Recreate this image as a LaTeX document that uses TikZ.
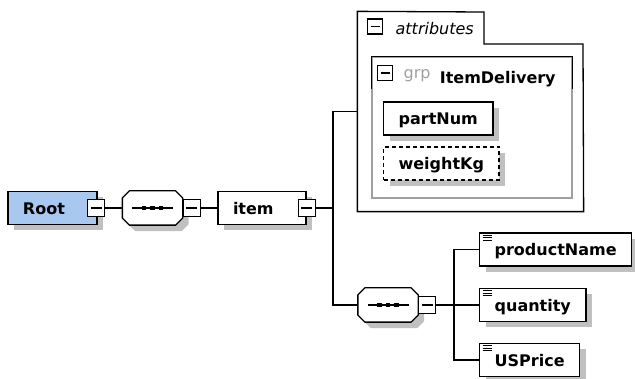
\documentclass[tikz,border=0pt]{standalone}
\usepackage{fontspec}
\setmainfont{DejaVu Sans}
\usetikzlibrary{shadows,positioning}
\definecolor{rootblue}{HTML}{A8C8F0}
\definecolor{shadowgray}{HTML}{C0C0C0}
\definecolor{grpgray}{HTML}{A0A0A0}
% octagon round a node, shifted right and down by #2
\newcommand\octpath[2]{([shift={(7+#2,#2)}]#1.north west) -- ([shift={(-7+#2,#2)}]#1.north east)
  -- ([shift={(#2,7+#2)}]#1.north east) -- ([shift={(#2,-7+#2)}]#1.south east)
  -- ([shift={(-7+#2,#2)}]#1.south east) -- ([shift={(7+#2,#2)}]#1.south west)
  -- ([shift={(#2,-7+#2)}]#1.south west) -- ([shift={(#2,7+#2)}]#1.north west) -- cycle}

\begin{document}
\begin{tikzpicture}[x=1pt,y=-1pt,line width=1.3pt,
  txt/.style={font=\fontsize{16}{19}\selectfont},
  boxshadow/.style={general shadow={fill=shadowgray, shadow xshift=6pt, shadow yshift=-6pt}},
  box/.style={draw, fill=white, boxshadow, minimum height=33pt, inner xsep=15pt, inner ysep=0pt,
    text height=12.5pt, text depth=0pt, font=\bfseries\fontsize{16}{19}\selectfont},
  leftbox/.style={box, text width=#1, align=left},
  simplebox/.style={box, anchor=west, path picture={
    \foreach \dy in {2,4.6,7.2}
      \draw[line width=0.8pt] ([xshift=3pt,yshift=-\dy pt]path picture bounding box.north west) -- ++(9,0);}},
  minusbox/.style={draw, fill=white, minimum size=17pt, inner sep=0pt, line width=1.2pt, path picture={
    \draw ([xshift=3pt]path picture bounding box.west) -- ([xshift=-3pt]path picture bounding box.east);}},
  smallminus/.style={minusbox, minimum size=15pt},
  seqbox/.style={minimum width=59pt, minimum height=33pt, inner sep=0pt,
    append after command={\pgfextra{
      \fill[shadowgray] \octpath{\tikzlastnode}{6};
      \draw[fill=white] \octpath{\tikzlastnode}{0};
      \draw[line width=1.2pt] ([xshift=-20.5pt]\tikzlastnode.center) -- ([xshift=20.5pt]\tikzlastnode.center);
      \foreach \dx in {-8.5,0,8.5}
        \fill ([xshift=\dx pt]\tikzlastnode.center) ++(-2.4,-2.4) rectangle ++(4.8,4.8);}}}]
\useasboundingbox (0,0) rectangle (635,379);

% main sequence
\node[leftbox=59pt, fill=rootblue] (root) at (52.5,208) {Root};
\node[minusbox] (rootm) at ([xshift=-1.5pt]root.east) {};
\node[seqbox] (seq1) at (152.5,208) {};
\node[minusbox, anchor=west] (seq1m) at (seq1.east) {};
\node[leftbox=58pt] (item) at (262,208) {item};
\node[minusbox] (itemm) at (item.east) {};

% attributes
\node[minimum width=225pt, minimum height=199pt, inner sep=0pt] (attrs) at (470.5,111.5) {};
\draw (attrs.south west) -- (attrs.north west) -- (484,12) -- (484,44) -- (583,44) -- (attrs.south east) -- cycle;
\node[smallminus] (attrm) at (375,26.5) {};
\node[txt, anchor=base west, inner sep=0pt, font=\itshape\fontsize{16}{19}\selectfont] (attrlbl) at (395,35) {attributes};

% group
\node[draw=grpgray, line width=1.2pt, minimum width=200pt, minimum height=141pt, inner sep=0pt] (grp) at (472,127.5) {};
\draw ([yshift=-33pt]grp.north west) -- (grp.north west) -- (grp.north east) -- ([yshift=-33pt]grp.north east);
\node[smallminus] (grpm) at (385,73) {};
\node[txt, anchor=base west, inner sep=0pt, text=grpgray] (grplbl) at (403,79) {grp};
\node[anchor=base west, inner sep=0pt, font=\bfseries\fontsize{16}{19}\selectfont, right=8pt of grplbl.base east] (grpname) {ItemDelivery};
\node[box, anchor=west] (partnum) at (383,118.5) {partNum};
\node[box, anchor=west, dash pattern=on 4pt off 3pt, line width=1.2pt] (weight) at (383,163.5) {weightKg};

% inner sequence
\node[seqbox] (seq2) at (388,305) {};
\node[minusbox, anchor=west] (seq2m) at (seq2.east) {};
\node[simplebox] (pname) at (479,249.5) {productName};
\node[simplebox] (qty) at (479,305) {quantity};
\node[simplebox] (price) at (479,360) {USPrice};

% connectors
\coordinate (j1) at (333,208);
\coordinate (j2) at (454,305);
\draw (rootm.east) -- (seq1.west);
\draw (seq1m.east) -- (item.west);
\draw (itemm.east) -- (j1);
\draw (attrs.west) -| (j1) |- (seq2.west);
\draw (seq2m.east) -- (j2);
\draw (pname.west) -| (j2) |- (price.west);
\draw (j2) -- (qty.west);
\end{tikzpicture}
\end{document}
